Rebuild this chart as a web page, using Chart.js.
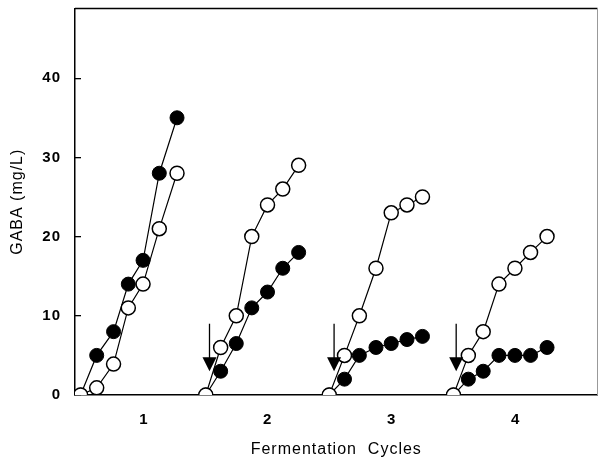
<!DOCTYPE html>
<html>
<head>
<meta charset="utf-8">
<script src="https://cdn.jsdelivr.net/npm/chart.js@4"></script>
<style>
  body { margin: 0; background: #fff; }
  #wrap { width: 606px; height: 461px; }
</style>
</head>
<body>
<div id="wrap"><canvas id="gaba" width="606" height="461"></canvas></div>
<script>
// sampling times inside each fermentation cycle
var cycleTimes = [
  [0.49, 0.62, 0.756, 0.875, 0.994, 1.125, 1.268],
  [1.50, 1.62, 1.746, 1.871, 1.998, 2.121, 2.249],
  [2.496, 2.619, 2.739, 2.873, 2.996, 3.123, 3.248],
  [3.498, 3.618, 3.738, 3.865, 3.994, 4.12, 4.253]
];
// open circles
var openVals = [
  [0, 0.9, 3.9, 11, 14, 21, 28],
  [0, 6, 10, 20, 24, 26, 29],
  [0, 5, 10, 16, 23, 24, 25],
  [0, 5, 8, 14, 16, 18, 20]
];
// filled circles
var filledVals = [
  [0, 5, 8, 14, 17, 28, 35],
  [0, 3, 6.5, 11, 13, 16, 18],
  [0, 2, 5, 6, 6.5, 7, 7.4],
  [0, 2, 3, 5, 5, 5, 6]
];
var xTicks = [1, 2, 3, 4];
var yTicks = [0, 10, 20, 30, 40];
// arrows (x, from y, to y)
var arrowX = [1.53, 2.535, 3.52];
var arrowFrom = [9, 9, 9];
var arrowTo = [3, 3, 3];

function pts(xs, ys) {
  return xs.map(function(x, i) { return {x: x, y: ys[i]}; });
}

var datasets = [];
cycleTimes.forEach(function(t, i) {
  datasets.push({
    data: pts(t, openVals[i]),
    showLine: true,
    borderColor: '#000',
    borderWidth: 1.2,
    pointRadius: 7,
    pointBackgroundColor: '#fff',
    pointBorderColor: '#000',
    pointBorderWidth: 1.5,
    order: 0
  });
});
cycleTimes.forEach(function(t, i) {
  datasets.push({
    data: pts(t, filledVals[i]),
    showLine: true,
    borderColor: '#000',
    borderWidth: 1.2,
    pointRadius: 7,
    pointBackgroundColor: '#000',
    pointBorderColor: '#000',
    pointBorderWidth: 1,
    order: 1
  });
});

var framePlugin = {
  id: 'frame',
  beforeDraw: function(chart) {
    chart.ctx.letterSpacing = '1px';
  },
  afterDraw: function(chart) {
    var ctx = chart.ctx, a = chart.chartArea;
    var xs = chart.scales.x, ys = chart.scales.y;
    ctx.save();
    ctx.strokeStyle = '#000';
    ctx.lineWidth = 1.5;
    ctx.beginPath();
    ctx.moveTo(a.left, a.top);
    ctx.lineTo(a.right, a.top);
    ctx.stroke();
    ctx.strokeStyle = '#999';
    ctx.lineWidth = 1;
    ctx.beginPath();
    ctx.moveTo(a.right, a.top);
    ctx.lineTo(a.right, a.bottom);
    ctx.stroke();
    // arrows
    ctx.strokeStyle = '#000';
    ctx.fillStyle = '#000';
    ctx.lineWidth = 1.3;
    arrowX.forEach(function(x, i) {
      var px = xs.getPixelForValue(x);
      var y1 = ys.getPixelForValue(arrowFrom[i]);
      var y2 = ys.getPixelForValue(arrowTo[i]);
      ctx.beginPath();
      ctx.moveTo(px, y1);
      ctx.lineTo(px, y2 - 8);
      ctx.stroke();
      ctx.beginPath();
      ctx.moveTo(px - 7, y2 - 14);
      ctx.lineTo(px + 7, y2 - 14);
      ctx.lineTo(px, y2);
      ctx.closePath();
      ctx.fill();
    });
    ctx.restore();
  }
};

new Chart(document.getElementById('gaba'), {
  type: 'scatter',
  data: { datasets: datasets },
  options: {
    responsive: false,
    animation: false,
    layout: { padding: { top: 7, right: 2, left: 0, bottom: 0 } },
    plugins: { legend: { display: false }, tooltip: { enabled: false } },
    scales: {
      x: {
        type: 'linear',
        min: 0.445,
        max: 4.66,
        afterBuildTicks: function(s) { s.ticks = xTicks.map(function(v) { return {value: v}; }); },
        afterFit: function(s) { s.height = 66; s.paddingLeft = 0; s.paddingRight = 0; },
        grid: { display: true, drawOnChartArea: false, drawTicks: false },
        border: { color: '#000', width: 1.5 },
        ticks: {
          color: '#000',
          padding: 16,
          font: { family: 'Liberation Sans, Arial', size: 15, weight: 'bold' }
        },
        title: {
          display: true,
          text: 'Fermentation  Cycles',
          color: '#000',
          padding: { top: 0, bottom: 2 },
          font: { family: 'Liberation Sans, Arial', size: 16 }
        }
      },
      y: {
        min: 0,
        max: 48.8,
        afterBuildTicks: function(s) { s.ticks = yTicks.map(function(v) { return {value: v}; }); },
        afterFit: function(s) { s.width = 75; s.paddingTop = 0; s.paddingBottom = 0; },
        grid: { drawOnChartArea: false, drawTicks: true, tickLength: -6, color: '#000', lineWidth: 1.3 },
        border: { color: '#000', width: 1.5 },
        ticks: {
          color: '#000',
          padding: 20,
          font: { family: 'Liberation Sans, Arial', size: 15, weight: 'bold' }
        },
        title: {
          display: true,
          text: 'GABA (mg/L)',
          color: '#000',
          padding: { top: 8, bottom: 0 },
          font: { family: 'Liberation Sans, Arial', size: 16 }
        }
      }
    }
  },
  plugins: [framePlugin]
});
</script>
</body>
</html>
